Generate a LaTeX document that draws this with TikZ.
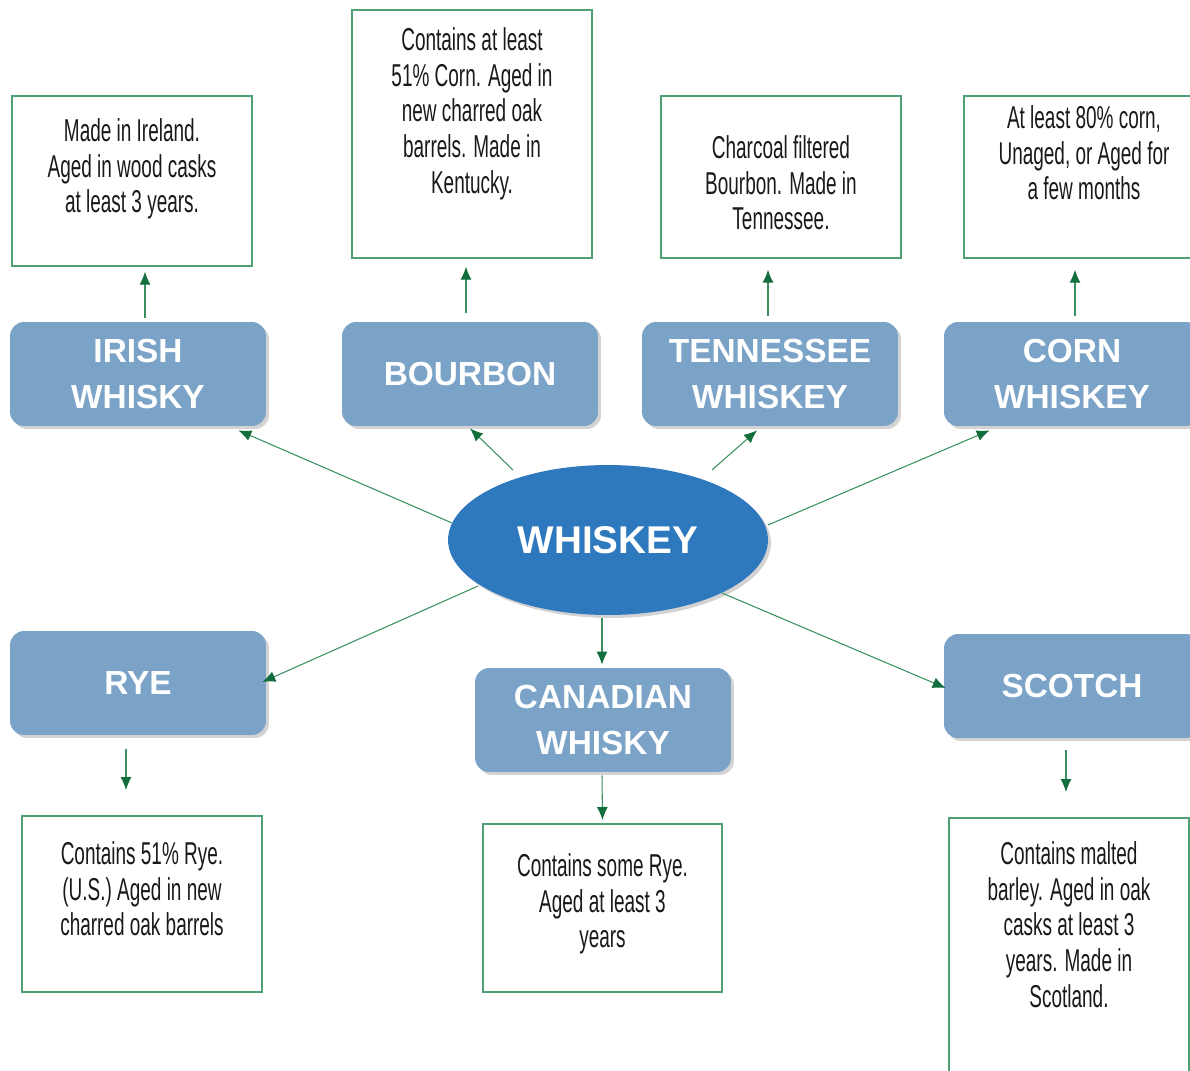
\documentclass[tikz,border=0pt]{standalone}
\usepackage{fontspec}
\setmainfont{Liberation Sans}
\newfontfamily\narrowfont[FakeStretch=0.6]{Liberation Sans}
\usetikzlibrary{arrows.meta}
\usetikzlibrary{shapes.geometric}
\usetikzlibrary{shadows}
\tikzset{>=Latex}
\definecolor{kindblue}{RGB}{123,163,200}
\definecolor{ovalblue}{RGB}{46,120,190}
\definecolor{linkgreen}{RGB}{56,145,95}
\definecolor{tipgreen}{RGB}{18,110,60}
\definecolor{notegreen}{RGB}{80,160,115}
\tikzstyle{kindbox}=[fill=kindblue,rounded corners=0.28cm,minimum width=5.12cm,minimum height=2.08cm,
  text=white,font=\bfseries\fontsize{19}{26}\selectfont,align=center,
  drop shadow={opacity=0.35,shadow xshift=0.06cm,shadow yshift=-0.06cm}]
\tikzstyle{notebox}=[draw=notegreen,line width=1pt,minimum width=4.8cm,anchor=north,inner sep=0]
\tikzstyle{notetext}=[font=\narrowfont\fontsize{18}{20.4}\selectfont,text=black!90,align=center,anchor=north,inner sep=0]
\tikzstyle{link}=[draw=linkgreen,line width=0.6pt,-{Latex[length=2.6mm,width=2.2mm,color=tipgreen]}]

\begin{document}
\begin{tikzpicture}[x=0.02cm,y=-0.02cm]
  \useasboundingbox (0,0) rectangle (1190,1071);
  % centre
  \node[ellipse,fill=ovalblue,minimum width=6.4cm,minimum height=3cm,inner sep=0,text=white,
    font=\bfseries\fontsize{22}{26}\selectfont,
    drop shadow={opacity=0.35,shadow xshift=0.06cm,shadow yshift=-0.06cm}] (whiskey) at (608,540) {WHISKEY};

  % kinds
  \node[kindbox] (irish) at (138,374) {IRISH\\WHISKY};
  \node[kindbox] (bourbon) at (470,374) {BOURBON};
  \node[kindbox] (tenn) at (770,374) {TENNESSEE\\WHISKEY};
  \node[kindbox] (corn) at (1072,374) {CORN\\WHISKEY};
  \node[kindbox] (rye) at (138,683) {RYE};
  \node[kindbox] (canadian) at (603,720) {CANADIAN\\WHISKY};
  \node[kindbox] (scotch) at (1072,686) {SCOTCH};

  % notes
  \node[notebox,minimum height=3.4cm] (irishnote) at (132,95) {};
  \node[notetext] (irishtext) at ([shift={(0,23)}]irishnote.north) {Made in Ireland.\\Aged in wood casks\\at least 3 years.};
  \node[notebox,minimum height=4.96cm] (bourbonnote) at (472,9) {};
  \node[notetext] (bourbontext) at ([shift={(0,18)}]bourbonnote.north) {Contains at least\\51\% Corn. Aged in\\new charred oak\\barrels. Made in\\Kentucky.};
  \node[notebox,minimum height=3.24cm] (tennnote) at (781,95) {};
  \node[notetext] (tenntext) at ([shift={(0,40)}]tennnote.north) {Charcoal filtered\\Bourbon. Made in\\Tennessee.};
  \node[notebox,minimum height=3.24cm] (cornnote) at (1084,95) {};
  \node[notetext] (corntext) at ([shift={(0,10)}]cornnote.north) {At least 80\% corn,\\Unaged, or Aged for\\a few months};
  \node[notebox,minimum height=3.52cm] (ryenote) at (142,815) {};
  \node[notetext] (ryetext) at ([shift={(0,26)}]ryenote.north) {Contains 51\% Rye.\\(U.S.) Aged in new\\charred oak barrels};
  \node[notebox,minimum height=3.36cm,minimum width=4.78cm] (cannote) at (602.5,823) {};
  \node[notetext] (cantext) at ([shift={(0,30)}]cannote.north) {Contains some Rye.\\Aged at least 3\\years};
  \node[notebox,minimum height=6cm] (scotchnote) at (1069,817) {};
  \node[notetext] (scotchtext) at ([shift={(0,24)}]scotchnote.north) {Contains malted\\barley. Aged in oak\\casks at least 3\\years. Made in\\Scotland.};

  % from the centre out
  \draw[link] ([shift={(-156,-17)}]whiskey.center) -- ([shift={(-28,4)}]irish.south east);
  \draw[link] ([shift={(-95,-70)}]whiskey.center) -- ([shift={(0,2)}]bourbon.south);
  \draw[link] ([shift={(104,-70)}]whiskey.center) -- ([shift={(-13,4)}]tenn.south);
  \draw[link] ([shift={(160,-15)}]whiskey.center) -- ([shift={(46,4)}]corn.south west);
  \draw[link] ([shift={(-130,46)}]whiskey.center) -- ([shift={(-4,-1)}]rye.east);
  \draw[link] ([shift={(-6,3)}]whiskey.south) -- ([shift={(-1,-3)}]canadian.north);
  \draw[link] ([shift={(114,53)}]whiskey.center) -- ([shift={(2,2)}]scotch.west);

  % kinds to notes
  \draw[link] ([shift={(7,-4)}]irish.north) -- ([shift={(13,5)}]irishnote.south);
  \draw[link] ([shift={(-4,-9)}]bourbon.north) -- ([shift={(-6,8)}]bourbonnote.south);
  \draw[link] ([shift={(-2,-6)}]tenn.north) -- ([shift={(-13,11)}]tennnote.south);
  \draw[link] ([shift={(3,-6)}]corn.north) -- ([shift={(-9,11)}]cornnote.south);
  \draw[link] ([shift={(-12,14)}]rye.south) -- ([shift={(-16,-25)}]ryenote.north);
  \draw[link] ([shift={(-1,3)}]canadian.south) -- ([shift={(0,-3)}]cannote.north);
  \draw[link] ([shift={(-6,12)}]scotch.south) -- ([shift={(-3,-25)}]scotchnote.north);
\end{tikzpicture}
\end{document}
